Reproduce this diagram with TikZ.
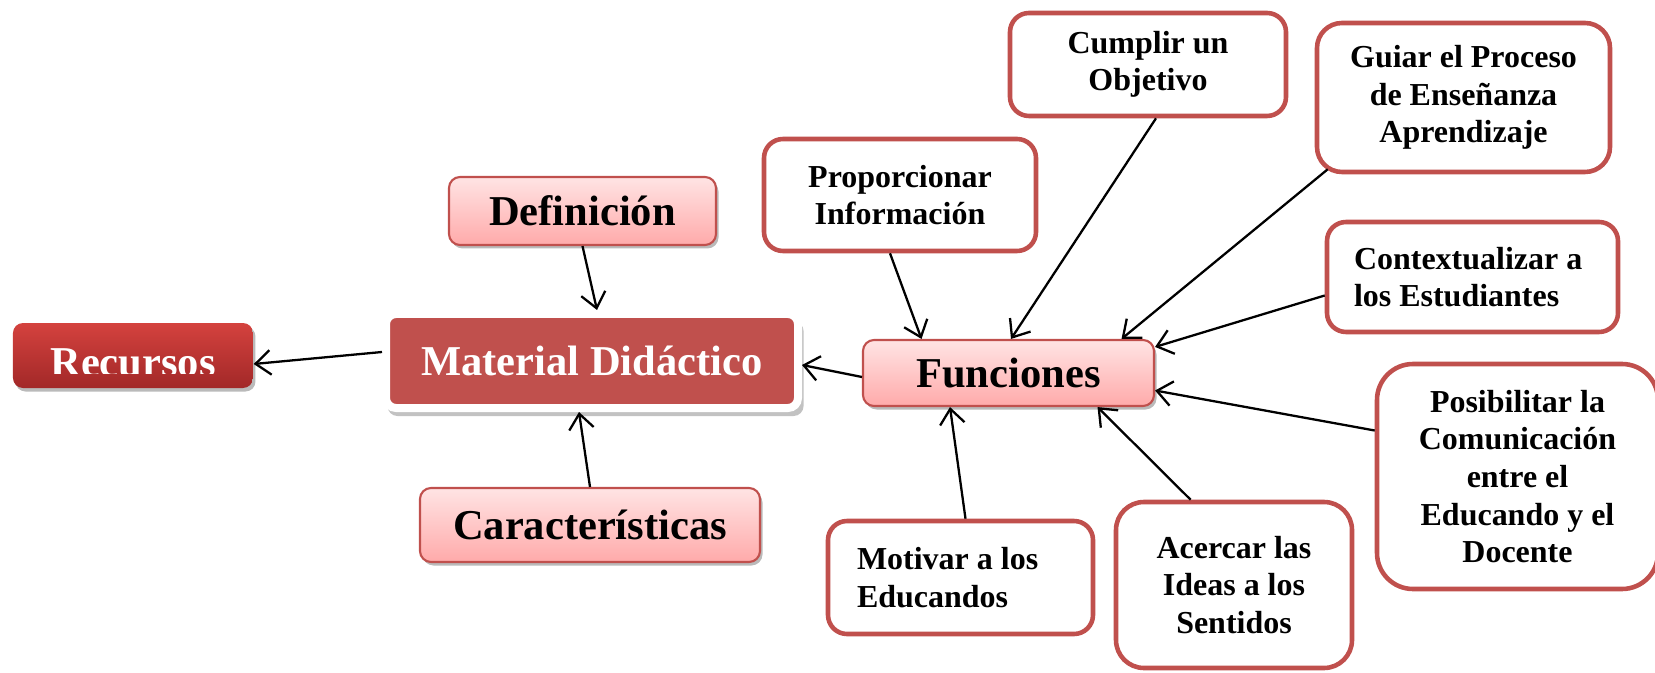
\documentclass[tikz,border=0pt]{standalone}
\usepackage{fontspec}
\setmainfont{Liberation Serif}
\usetikzlibrary{positioning,shadows,arrows.meta}

\definecolor{redline}{HTML}{C0504D}
\definecolor{pinktop}{RGB}{255,228,228}
\definecolor{pinkbot}{RGB}{255,170,170}
\definecolor{rectop}{RGB}{212,66,62}
\definecolor{recbot}{RGB}{162,40,40}

\newcommand{\bigfont}{\fontsize{12.1}{14}\selectfont\bfseries}
\newcommand{\smallfont}{\fontsize{9.1}{10.7}\selectfont\bfseries}

\tikzset{
  shadowed/.style={drop shadow={shadow xshift=0.025cm, shadow yshift=-0.035cm, opacity=0.45, fill=black!60}},
  pinkbox/.style={shadowed, draw=redline, line width=0.6pt, rounded corners=0.11cm,
    top color=pinktop, bottom color=pinkbot, font=\bigfont, inner sep=0pt},
  mdbox/.style={drop shadow={shadow xshift=0.035cm, shadow yshift=-0.075cm, shadow scale=1.01, opacity=0.4, fill=black!60},
    fill=redline, draw=white, line width=0.08cm, rounded corners=0.1cm,
    text=white, font=\bigfont, inner sep=0pt, minimum width=4.12cm, minimum height=0.94cm},
  recbox/.style={shadowed, top color=rectop, bottom color=recbot, rounded corners=0.1cm,
    inner sep=0pt, minimum width=2.4cm, minimum height=0.65cm},
  whitebox/.style={draw=redline, fill=white, line width=1.3pt, rounded corners=0.19cm,
    font=\smallfont, inner sep=0pt, align=center},
  link/.style={->, line width=0.65pt}
}

\begin{document}
\begin{tikzpicture}[%
>={Straight Barb[length=4.3pt,width=7pt]},
node distance=2cm,
on grid,
auto
]
\useasboundingbox (-5.92,-3.12) rectangle (10.63,3.61);

% centre
\node[mdbox] (md) at (0,0) {Material Didáctico};
\node[recbox] (rec) [above left=0.055cm and 4.59cm of md] {};
\begin{scope}
\clip (rec.north west) rectangle ([yshift=0.15cm]rec.south east);
\node[anchor=base, text=white, font=\bigfont] (rectxt) at ([yshift=-0.205cm]rec.center) {Recursos};
\end{scope}
\node[pinkbox, minimum width=2.67cm, minimum height=0.68cm] (def) [above left=1.5cm and 0.095cm of md] {Definición};
\node[pinkbox, minimum width=3.4cm, minimum height=0.74cm] (car) [below left=1.64cm and 0.02cm of md] {Características};
\node[pinkbox, minimum width=2.91cm, minimum height=0.66cm] (fun) [below right=0.12cm and 4.165cm of md] {Funciones};

% funciones
\node[whitebox, minimum width=2.72cm, minimum height=1.12cm] (pro) [above left=1.78cm and 1.085cm of fun] {Proporcionar\\Información};
\node[whitebox, minimum width=2.76cm, minimum height=1.03cm] (cum) [above right=3.085cm and 1.395cm of fun] {Cumplir un\\Objetivo};
\node[whitebox, rounded corners=0.25cm, minimum width=2.93cm, minimum height=1.49cm] (gui) [above right=2.755cm and 4.55cm of fun] {Guiar el Proceso\\de Enseñanza\\Aprendizaje};
\node[whitebox, align=flush left, text width=2.37cm, minimum width=2.91cm, minimum height=1.1cm] (con) [above right=0.96cm and 4.64cm of fun] {Contextualizar a\\los Estudiantes};
\node[whitebox, rounded corners=0.36cm, minimum width=2.81cm, minimum height=2.25cm] (pos) [below right=1.035cm and 5.09cm of fun] {Posibilitar la\\Comunicación\\entre el\\Educando y el\\Docente};
\node[whitebox, align=flush left, text width=2.07cm, minimum width=2.65cm, minimum height=1.13cm] (mot) [below left=2.045cm and 0.48cm of fun] {Motivar a los\\Educandos};
\node[whitebox, rounded corners=0.28cm, minimum width=2.36cm, minimum height=1.66cm] (ace) [below right=2.12cm and 2.255cm of fun] {Acercar las\\Ideas a los\\Sentidos};

% arrows
\path[link] ([yshift=0.09cm]md.west) edge ([yshift=-0.085cm]rec.east);
\path[link] (def.south) edge ([xshift=0.05cm]md.north);
\path[link] (car.north) edge ([xshift=-0.13cm]md.south);
\path[link] ([yshift=-0.04cm]fun.west) edge ([yshift=-0.04cm]md.east);
\path[link] ([xshift=-0.1cm]pro.south) edge ([xshift=-0.87cm]fun.north);
\path[link] ([xshift=0.08cm]cum.south) edge ([xshift=0.025cm]fun.north);
\path[link] ([xshift=0.13cm,yshift=0.05cm]gui.south west) edge ([xshift=1.13cm]fun.north);
\path[link] ([yshift=-0.185cm]con.west) edge ([yshift=-0.08cm]fun.north east);
\path[link] ([yshift=0.46cm]pos.west) edge ([yshift=-0.175cm]fun.east);
\path[link] ([xshift=-0.434cm]ace.north) edge ([xshift=0.89cm]fun.south);
\path[link] ([xshift=0.05cm]mot.north) edge ([xshift=-0.585cm]fun.south);

\end{tikzpicture}
\end{document}
